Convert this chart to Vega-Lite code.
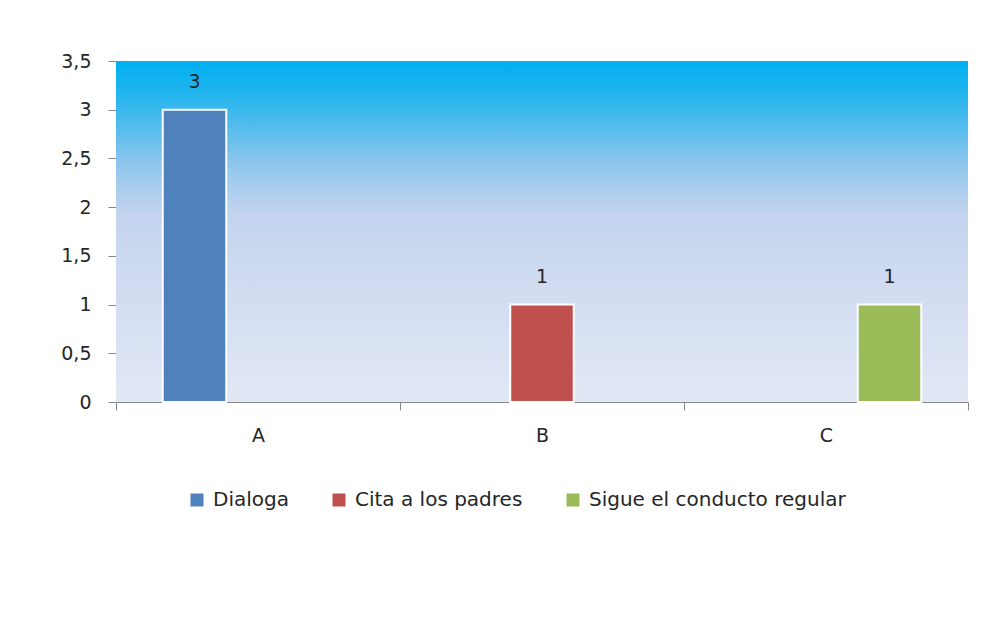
{
  "$schema": "https://vega.github.io/schema/vega-lite/v6.json",
  "width": 852,
  "height": 341,
  "autosize": "none",
  "padding": {"left": 116, "top": 61, "right": 17, "bottom": 217},
  "background": "#ffffff",
  "config": {
    "view": {"stroke": null},
    "font": "DejaVu Sans",
    "axis": {"labelFont": "DejaVu Sans", "labelFontSize": 19, "labelColor": "#262626"}
  },
  "data": {
    "values": [
      {"categoria": "A", "serie": "Dialoga", "valor": 3},
      {"categoria": "B", "serie": "Cita a los padres", "valor": 1},
      {"categoria": "C", "serie": "Sigue el conducto regular", "valor": 1}
    ]
  },
  "layer": [
    {
      "mark": {
        "type": "rect",
        "fill": {
          "gradient": "linear", "x1": 0, "y1": 0, "x2": 0, "y2": 1,
          "stops": [
            {"offset": 0, "color": "#00B0F0"},
            {"offset": 0.08, "color": "#1CB4EF"},
            {"offset": 0.15, "color": "#3DB8EC"},
            {"offset": 0.3, "color": "#8EC6EC"},
            {"offset": 0.45, "color": "#C4D4EE"},
            {"offset": 0.7, "color": "#D3DDF1"},
            {"offset": 1, "color": "#E1E8F5"}
          ]
        }
      },
      "encoding": {
        "y": {"datum": 3.5, "type": "quantitative", "scale": {"domain": [0, 3.5]}},
        "y2": {"datum": 0}
      }
    },
    {
      "mark": {"type": "bar", "stroke": "#ffffff", "strokeWidth": 2},
      "encoding": {
        "x": {
          "field": "categoria", "type": "nominal",
          "scale": {"domain": ["A", "B", "C"], "paddingInner": 0, "paddingOuter": 0},
          "axis": {
            "title": null, "labelAngle": 0, "tickBand": "extent", "tickSize": 8,
            "tickColor": "#868686", "domainColor": "#868686", "labelPadding": 16
          }
        },
        "xOffset": {
          "field": "serie", "type": "nominal",
          "scale": {"domain": ["Dialoga", "Cita a los padres", "Sigue el conducto regular"], "paddingInner": 0, "paddingOuter": 0.736}
        },
        "y": {
          "field": "valor", "type": "quantitative",
          "scale": {"domain": [0, 3.5], "nice": false},
          "axis": {
            "title": null, "values": [0, 0.5, 1, 1.5, 2, 2.5, 3, 3.5],
            "labelExpr": "replace(toString(datum.value), '.', ',')",
            "tickSize": 8, "tickColor": "#868686", "domainColor": "#A6A6A6",
            "gridColor": "#7F7F7F", "gridOpacity": 1, "labelPadding": 17
          }
        },
        "color": {
          "field": "serie", "type": "nominal",
          "scale": {
            "domain": ["Dialoga", "Cita a los padres", "Sigue el conducto regular"],
            "range": ["#4F81BD", "#C0504D", "#9BBB59"]
          },
          "legend": {
            "title": null, "orient": "none", "direction": "horizontal",
            "legendX": 71, "legendY": 429,
            "symbolType": "square", "symbolSize": 169, "symbolStrokeWidth": 0,
            "labelFont": "DejaVu Sans", "labelFontSize": 20, "labelColor": "#262626",
            "labelLimit": 400, "columnPadding": 40, "labelOffset": 6
          }
        }
      }
    },
    {
      "mark": {"type": "text", "dy": -28, "fontSize": 19, "color": "#262626", "font": "DejaVu Sans"},
      "encoding": {
        "x": {"field": "categoria", "type": "nominal"},
        "xOffset": {"field": "serie", "type": "nominal"},
        "y": {"field": "valor", "type": "quantitative"},
        "text": {"field": "valor", "type": "quantitative"}
      }
    }
  ]
}
